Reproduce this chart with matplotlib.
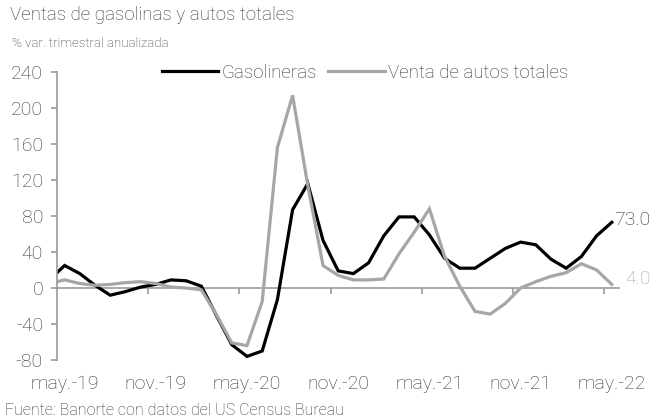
import numpy as np
import matplotlib
matplotlib.use("Agg")
import matplotlib.pyplot as plt

plt.rcParams['font.family'] = ['Roboto', 'DejaVu Sans']
plt.rcParams['font.weight'] = 'light'

# datos mensuales abr-19 a may-22 (% var. trimestral anualizada)
gasolineras = [9, 25, 16, 3, -8, -4, 1, 4, 9, 8, 2, -31, -63, -76, -70, -13, 87, 116, 53,
               19, 16, 28, 58, 79, 79, 59, 33, 22, 22, 33, 44, 51, 48, 32, 22, 35, 58, 73]
autos = [5, 9, 5, 3, 4, 6, 7, 5, 1, 0, -2, -30, -61, -64, -15, 156, 214, 114, 25,
         14, 9, 9, 10, 38, 62, 88, 35, 2, -26, -29, -17, 0, 7, 13, 17, 27, 20, 4]
tick_labels = ["may.-19", "nov.-19", "may.-20", "nov.-20", "may.-21", "nov.-21", "may.-22"]
y_ticks = [-80, -40, 0, 40, 80, 120, 160, 200, 240]

BLACK = "#000000"
GRAY = "#a6a6a6"
AXIS = "#999999"
TEXT = "#333333"

idx = np.arange(len(gasolineras)) - 1   # -1 = abr-19, 0 = may-19

fig = plt.figure(figsize=(6.63, 4.2), dpi=100)
ax = fig.add_axes([57 / 663, 1 - 360 / 420, (619.4 - 57) / 663, 288 / 420])

ax.plot(idx, gasolineras, color=BLACK, lw=2.3, label="Gasolineras", solid_joinstyle="miter")
ax.plot(idx, autos, color=GRAY, lw=2.3, label="Venta de autos totales", solid_joinstyle="miter")

ax.set_xlim(-0.5, 36.5)
ax.set_ylim(-80, 240)
ax.set_yticks(y_ticks)
ax.set_yticklabels([str(v) for v in y_ticks])
ax.set_xticks(np.arange(0, 37, 6))
ax.set_xticklabels(tick_labels)

for s in ["top", "right", "bottom"]:
    ax.spines[s].set_visible(False)
ax.spines["left"].set_color(AXIS)
ax.spines["left"].set_linewidth(1.2)
ax.tick_params(axis="y", direction="out", length=4, width=1.2, color=AXIS,
               labelsize=14, labelcolor=TEXT, pad=6)
ax.tick_params(axis="x", length=0, labelsize=14, labelcolor=TEXT, pad=11)

# eje en cero con marcas entre categorias
sec = ax.secondary_xaxis(0.25)
sec.set_xticks(np.arange(5.5, 36, 6))
sec.set_xticklabels([])
sec.spines["bottom"].set_color(AXIS)
sec.spines["bottom"].set_linewidth(1.2)
sec.tick_params(direction="out", length=4, width=1.2, color=AXIS)

ax.annotate(f"{gasolineras[-1]:.1f}", (idx[-1], gasolineras[-1]), xytext=(2, 2),
            textcoords="offset points", va="center", ha="left", fontsize=14,
            color="#262626", annotation_clip=False)
ax.annotate(f"{autos[-1]:.1f}", (idx[-1], autos[-1]), xytext=(10, 4),
            textcoords="offset points", va="center", ha="left", fontsize=14,
            color=GRAY, annotation_clip=False)

fig.legend(loc="center", bbox_to_anchor=(365 / 663, 1 - 73 / 420), ncol=2, frameon=False,
           fontsize=13.5, handlelength=3.0, handletextpad=0.2, columnspacing=0.6,
           labelcolor=TEXT)

fig.text(10 / 663, 1 - 6 / 420, "Ventas de gasolinas y autos totales", fontsize=13.5,
         color=TEXT, va="top", ha="left")
fig.text(12 / 663, 1 - 37 / 420, "% var. trimestral anualizada", fontsize=9.5,
         color=TEXT, va="top", ha="left")
fig.text(5 / 663, 2 / 420, "Fuente: Banorte con datos del US Census Bureau", fontsize=11.5,
         color=TEXT, va="bottom", ha="left")

fig.savefig("out.png", dpi=100)
